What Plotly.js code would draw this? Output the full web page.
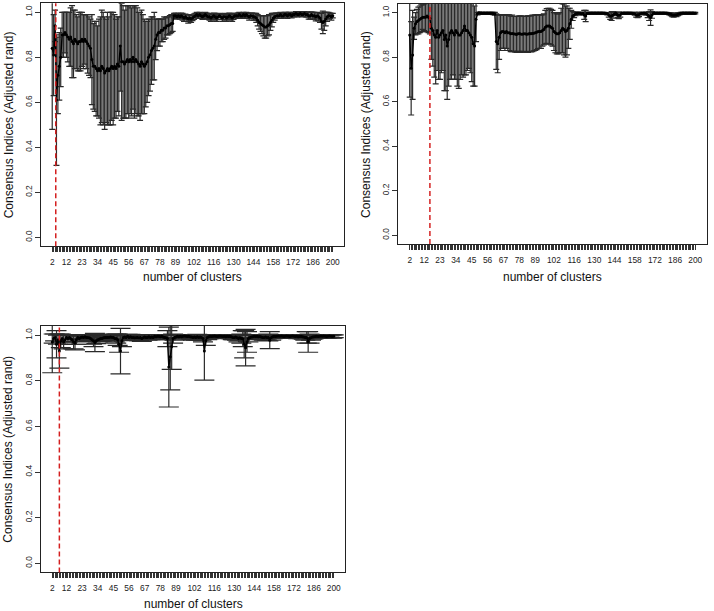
<!DOCTYPE html>
<html>
<head>
<meta charset="utf-8">
<script src="https://cdn.plot.ly/plotly-3.0.1.min.js"></script>
<style>html,body{margin:0;padding:0;background:#fff;}#chart{width:714px;height:611px;}</style>
</head>
<body>
<div id="chart"></div>
<script>
// number of clusters (k = 2 .. 200)
const clusters = Array.from({length: 199}, (_, i) => i + 2);
const tickLabels = [2, 12, 23, 34, 45, 56, 67, 78, 89, 102, 116, 130, 144, 158, 172, 186, 200];
const yTickVals = [0, 0.2, 0.4, 0.6, 0.8, 1.0];
const yTickText = ["0.0", "0.2", "0.4", "0.6", "0.8", "1.0"];
const optimalK = [4.5, 16, 7];

// Panel 1 (top-left): mean and sd of adjusted rand
const mean1 = [
 0.84,0.81,0.94,0.61,0.72,0.76,0.80,0.90,0.90,0.91,
 0.90,0.89,0.88,0.89,0.87,0.86,0.88,0.87,0.86,0.87,
 0.87,0.88,0.87,0.88,0.87,0.86,0.85,0.84,0.79,0.76,
 0.76,0.75,0.74,0.75,0.74,0.76,0.75,0.73,0.74,0.75,
 0.74,0.75,0.76,0.75,0.76,0.75,0.77,0.76,0.85,0.78,
 0.78,0.77,0.78,0.79,0.78,0.79,0.78,0.80,0.78,0.79,
 0.78,0.77,0.76,0.78,0.77,0.76,0.77,0.78,0.80,0.81,
 0.83,0.84,0.85,0.88,0.90,0.91,0.91,0.92,0.92,0.93,
 0.93,0.94,0.94,0.945,0.95,0.95,0.985,0.985,0.98,0.985,
 0.98,0.985,0.98,0.975,0.98,0.975,0.97,0.975,0.97,0.975,
 0.98,0.985,0.99,0.985,0.99,0.985,0.98,0.985,0.99,0.985,
 0.98,0.98,0.975,0.98,0.985,0.98,0.975,0.98,0.985,0.98,
 0.975,0.98,0.98,0.975,0.98,0.985,0.98,0.975,0.98,0.985,
 0.985,0.985,0.99,0.985,0.985,0.99,0.985,0.99,0.985,0.98,
 0.985,0.985,0.98,0.98,0.975,0.965,0.955,0.95,0.945,0.94,
 0.935,0.935,0.94,0.945,0.955,0.965,0.975,0.98,0.985,0.985,
 0.985,0.99,0.985,0.985,0.99,0.99,0.985,0.99,0.99,0.985,
 0.99,0.99,0.995,0.99,0.99,0.995,0.99,0.99,0.995,0.99,
 0.99,0.985,0.985,0.99,0.985,0.985,0.98,0.985,0.98,0.975,
 0.96,0.955,0.96,0.97,0.98,0.985,0.985,0.98,0.985
];
const sd1 = [
 0.36,0.18,0.07,0.29,0.17,0.15,0.13,0.10,0.10,0.09,
 0.10,0.11,0.12,0.13,0.16,0.15,0.13,0.12,0.12,0.13,
 0.13,0.12,0.12,0.11,0.12,0.13,0.13,0.13,0.20,0.19,
 0.20,0.21,0.20,0.22,0.24,0.25,0.25,0.25,0.23,0.25,
 0.24,0.25,0.24,0.25,0.23,0.22,0.21,0.22,0.20,0.26,
 0.25,0.24,0.25,0.24,0.25,0.24,0.24,0.23,0.25,0.24,
 0.24,0.23,0.24,0.23,0.22,0.21,0.19,0.18,0.17,0.16,
 0.15,0.14,0.15,0.09,0.07,0.06,0.06,0.05,0.05,0.05,
 0.045,0.04,0.04,0.04,0.04,0.035,0.01,0.012,0.01,0.01,
 0.01,0.012,0.015,0.015,0.012,0.015,0.018,0.015,0.015,0.012,
 0.012,0.01,0.01,0.012,0.01,0.012,0.012,0.01,0.01,0.012,
 0.012,0.015,0.015,0.012,0.012,0.015,0.015,0.012,0.01,0.012,
 0.015,0.012,0.015,0.015,0.012,0.012,0.015,0.015,0.012,0.01,
 0.01,0.012,0.01,0.01,0.012,0.01,0.01,0.01,0.012,0.015,
 0.012,0.012,0.015,0.015,0.02,0.025,0.03,0.035,0.04,0.045,
 0.05,0.05,0.045,0.045,0.035,0.03,0.02,0.015,0.012,0.012,
 0.012,0.01,0.012,0.01,0.01,0.01,0.012,0.01,0.01,0.01,
 0.008,0.01,0.008,0.01,0.008,0.008,0.01,0.008,0.008,0.01,
 0.012,0.015,0.015,0.012,0.015,0.015,0.018,0.015,0.018,0.02,
 0.035,0.05,0.04,0.03,0.02,0.015,0.012,0.015,0.01
];

// Panel 2 (top-right)
const mean2 = [
 0.90,0.75,0.81,0.93,0.95,0.96,0.965,0.97,0.975,0.98,
 0.98,0.98,0.985,0.98,0.975,0.93,0.92,0.90,0.89,0.92,
 0.89,0.90,0.91,0.92,0.88,0.90,0.85,0.88,0.91,0.92,
 0.91,0.90,0.92,0.91,0.90,0.90,0.91,0.92,0.94,0.92,
 0.92,0.91,0.90,0.89,0.86,0.85,0.97,0.995,1.0,0.998,
 0.998,0.997,0.998,0.998,0.997,0.998,0.998,0.997,0.996,0.995,
 0.87,0.86,0.89,0.91,0.915,0.915,0.91,0.915,0.91,0.91,
 0.905,0.907,0.905,0.904,0.902,0.905,0.906,0.904,0.903,0.905,
 0.905,0.903,0.904,0.906,0.905,0.907,0.908,0.910,0.912,0.915,
 0.915,0.915,0.92,0.925,0.935,0.94,0.94,0.94,0.935,0.93,
 0.915,0.91,0.905,0.905,0.91,0.92,0.93,0.925,0.915,0.92,
 0.93,0.95,0.97,0.985,0.99,0.995,0.997,0.997,0.998,0.995,
 0.997,0.99,0.985,0.997,0.998,0.997,0.998,0.998,0.997,0.998,
 0.998,0.997,0.998,0.998,0.997,0.998,0.996,0.995,0.99,0.985,
 0.985,0.99,0.995,0.997,0.99,0.988,0.99,0.997,0.998,0.997,
 0.998,0.997,0.998,0.998,0.997,0.996,0.995,0.99,0.99,0.992,
 0.995,0.997,0.998,0.997,0.995,0.99,0.985,0.978,0.99,0.997,
 0.998,0.997,0.998,0.998,0.997,0.998,0.998,0.997,0.998,0.996,
 0.995,0.993,0.99,0.988,0.99,0.99,0.993,0.995,0.997,0.998,
 0.998,0.997,0.998,0.998,0.997,0.998,0.998,0.997,0.998
];
const sd2 = [
 0.28,0.21,0.20,0.05,0.05,0.055,0.06,0.06,0.06,0.055,
 0.06,0.065,0.07,0.07,0.07,0.14,0.16,0.19,0.21,0.18,
 0.19,0.20,0.18,0.18,0.23,0.25,0.24,0.21,0.21,0.22,
 0.19,0.20,0.22,0.24,0.24,0.20,0.19,0.21,0.22,0.20,
 0.18,0.16,0.17,0.20,0.19,0.18,0.10,0.005,0.003,0.004,
 0.004,0.004,0.003,0.003,0.004,0.003,0.003,0.004,0.005,0.006,
 0.125,0.13,0.10,0.08,0.075,0.075,0.08,0.075,0.08,0.08,
 0.080,0.082,0.078,0.080,0.081,0.079,0.080,0.082,0.080,0.079,
 0.080,0.081,0.082,0.080,0.081,0.082,0.080,0.080,0.078,0.076,
 0.075,0.075,0.07,0.07,0.075,0.078,0.08,0.08,0.08,0.08,
 0.085,0.09,0.09,0.09,0.09,0.10,0.11,0.115,0.115,0.11,
 0.09,0.07,0.04,0.02,0.012,0.008,0.005,0.005,0.004,0.006,
 0.004,0.02,0.025,0.005,0.004,0.004,0.003,0.003,0.004,0.003,
 0.003,0.004,0.003,0.003,0.004,0.003,0.004,0.005,0.01,0.015,
 0.02,0.015,0.008,0.005,0.012,0.015,0.01,0.004,0.003,0.004,
 0.003,0.004,0.003,0.003,0.004,0.004,0.006,0.01,0.012,0.01,
 0.005,0.004,0.003,0.004,0.006,0.012,0.02,0.035,0.015,0.004,
 0.003,0.004,0.003,0.003,0.004,0.003,0.003,0.004,0.003,0.004,
 0.005,0.006,0.008,0.008,0.007,0.008,0.006,0.005,0.004,0.003,
 0.003,0.004,0.003,0.003,0.004,0.003,0.003,0.004,0.003
];

// Panel 3 (bottom-left)
const mean3 = [
 0.97,0.985,0.99,0.96,0.98,0.93,0.975,0.985,0.97,0.98,
 0.99,0.985,0.99,0.985,0.98,0.97,0.965,0.98,0.99,0.985,
 0.99,0.992,0.99,0.993,0.99,0.99,0.988,0.985,0.98,0.975,
 0.968,0.975,0.98,0.982,0.985,0.985,0.988,0.99,0.99,0.99,
 0.99,0.992,0.99,0.99,0.985,0.985,0.98,0.96,0.93,0.975,
 0.99,0.992,0.99,0.995,0.99,0.993,0.99,0.99,0.988,0.99,
 0.99,0.988,0.99,0.985,0.99,0.992,0.99,0.99,0.993,0.99,
 0.992,0.99,0.995,0.993,0.995,0.995,0.993,0.995,0.992,0.99,
 0.99,0.985,0.86,0.905,0.95,0.985,0.99,0.992,0.995,0.993,
 0.995,0.993,0.995,0.996,0.995,0.994,0.995,0.993,0.992,0.99,
 0.992,0.99,0.993,0.99,0.992,0.99,0.985,0.93,0.975,0.99,
 0.993,0.995,0.994,0.995,0.996,0.995,0.994,0.995,0.996,0.995,
 0.994,0.995,0.993,0.995,0.994,0.995,0.993,0.99,0.99,0.992,
 0.99,0.985,0.99,0.985,0.985,0.96,0.945,0.97,0.985,0.99,
 0.992,0.993,0.995,0.994,0.995,0.993,0.994,0.992,0.99,0.99,
 0.992,0.99,0.99,0.978,0.99,0.993,0.995,0.994,0.995,0.996,
 0.995,0.996,0.995,0.994,0.995,0.996,0.995,0.994,0.995,0.996,
 0.995,0.994,0.995,0.993,0.994,0.995,0.993,0.992,0.99,0.99,
 0.97,0.985,0.99,0.992,0.993,0.994,0.995,0.994,0.995,0.996,
 0.995,0.996,0.995,0.994,0.995,0.996,0.995,0.994,0.995
];
const sd3 = [
 0.135,0.02,0.015,0.06,0.02,0.075,0.03,0.015,0.03,0.02,
 0.01,0.015,0.01,0.015,0.02,0.03,0.03,0.02,0.01,0.012,
 0.01,0.008,0.01,0.007,0.01,0.01,0.012,0.015,0.02,0.025,
 0.04,0.012,0.01,0.01,0.012,0.01,0.01,0.01,0.01,0.01,
 0.012,0.01,0.012,0.015,0.015,0.02,0.025,0.035,0.10,0.025,
 0.01,0.01,0.012,0.008,0.01,0.01,0.012,0.01,0.012,0.01,
 0.01,0.012,0.01,0.012,0.01,0.008,0.01,0.012,0.008,0.01,
 0.008,0.008,0.006,0.007,0.006,0.006,0.007,0.006,0.008,0.01,
 0.01,0.035,0.175,0.145,0.10,0.02,0.012,0.01,0.006,0.008,
 0.006,0.007,0.006,0.005,0.006,0.007,0.006,0.008,0.01,0.012,
 0.01,0.012,0.01,0.012,0.01,0.012,0.015,0.127,0.02,0.01,
 0.008,0.006,0.007,0.006,0.005,0.006,0.007,0.006,0.005,0.006,
 0.007,0.006,0.008,0.006,0.007,0.006,0.008,0.01,0.01,0.01,
 0.012,0.015,0.012,0.02,0.035,0.06,0.08,0.045,0.015,0.01,
 0.008,0.008,0.006,0.007,0.006,0.007,0.007,0.009,0.01,0.012,
 0.01,0.012,0.015,0.037,0.012,0.008,0.006,0.007,0.006,0.005,
 0.006,0.005,0.006,0.007,0.006,0.005,0.006,0.007,0.006,0.005,
 0.006,0.007,0.006,0.008,0.007,0.006,0.008,0.01,0.012,0.025,
 0.045,0.02,0.012,0.01,0.008,0.007,0.006,0.007,0.006,0.005,
 0.006,0.005,0.006,0.007,0.006,0.005,0.006,0.007,0.006
];

const W = 714, H = 611;
const FONT = '"Liberation Sans", Arial, Helvetica, sans-serif';
const labelSet = new Set(tickLabels);
const xText = clusters.map(k => labelSet.has(k) ? String(k) : '');

// plot boxes in pixels: [left, right, top, bottom]
const boxes = [[41, 344, 3.3, 246.3], [398.3, 706.7, 3.8, 244], [41, 345, 326, 572.4]];

function xAxis(b) {
  return {
    domain: [b[0] / W, b[1] / W], range: [2 - 7.92, 200 + 7.92],
    tickmode: 'array', tickvals: clusters, ticktext: xText,
    ticks: 'outside', ticklen: 5, tickwidth: 1, tickcolor: '#333',
    showline: true, linecolor: '#222', linewidth: 1, mirror: true,
    showgrid: false, zeroline: false, tickangle: 0,
    tickfont: {family: FONT, size: 8.4, color: '#222'}, ticklabelstandoff: 3
  };
}
function yAxis(b, anchor) {
  return {
    domain: [1 - b[3] / H, 1 - b[2] / H], range: [-0.04, 1.04], anchor: anchor,
    tickmode: 'array', tickvals: yTickVals, ticktext: yTickText, tickangle: -90,
    ticks: 'outside', ticklen: 5, tickwidth: 1, tickcolor: '#333',
    showline: true, linecolor: '#222', linewidth: 1, mirror: true,
    showgrid: false, zeroline: false,
    tickfont: {family: FONT, size: 8.4, color: '#222'}, ticklabelstandoff: 0
  };
}

const means = [mean1, mean2, mean3];
const sds = [sd1, sd2, sd3];
const capW = [3, 3, 10];
const axNames = [['x', 'y'], ['x2', 'y2'], ['x3', 'y3']];

const traces = means.map((m, i) => ({
  x: clusters, y: m, xaxis: axNames[i][0], yaxis: axNames[i][1],
  type: 'scatter', mode: 'lines+markers',
  line: {color: '#000', width: 1.4},
  marker: {color: '#000', size: 3},
  error_y: {type: 'data', array: sds[i], visible: true, color: '#2a2a2a', thickness: 1.2, width: capW[i]},
  showlegend: false, hoverinfo: 'skip'
}));

const shapes = optimalK.map((k, i) => ({
  type: 'line', xref: axNames[i][0], yref: axNames[i][1] + ' domain',
  x0: k, x1: k, y0: 0, y1: 1,
  line: {color: '#d42020', width: 1.5, dash: '5px,3px'}
}));

const annotations = [];
boxes.forEach((b, i) => {
  const xTitleY = i === 2 ? 604 : 277;
  annotations.push({
    text: 'number of clusters', xref: 'paper', yref: 'paper',
    x: (b[0] + b[1]) / 2 / W, y: 1 - xTitleY / H, xanchor: 'center', yanchor: 'middle',
    showarrow: false, font: {family: FONT, size: 12, color: '#111'}
  });
  const yTitleX = i === 1 ? 366 : 8.5;
  annotations.push({
    text: 'Consensus Indices (Adjusted rand)', xref: 'paper', yref: 'paper',
    x: yTitleX / W, y: 1 - (b[2] + b[3]) / 2 / H, xanchor: 'center', yanchor: 'middle',
    textangle: -90, showarrow: false, font: {family: FONT, size: 12, color: '#111'}
  });
});

const layout = {
  width: W, height: H, margin: {l: 0, r: 0, t: 0, b: 0},
  paper_bgcolor: '#fff', plot_bgcolor: '#fff',
  font: {family: FONT},
  xaxis: xAxis(boxes[0]), yaxis: yAxis(boxes[0], 'x'),
  xaxis2: Object.assign(xAxis(boxes[1]), {anchor: 'y2'}), yaxis2: yAxis(boxes[1], 'x2'),
  xaxis3: Object.assign(xAxis(boxes[2]), {anchor: 'y3'}), yaxis3: yAxis(boxes[2], 'x3'),
  shapes: shapes, annotations: annotations, showlegend: false
};
layout.xaxis.anchor = 'y';

Plotly.newPlot('chart', traces, layout, {staticPlot: true, displayModeBar: false});
</script>
</body>
</html>
